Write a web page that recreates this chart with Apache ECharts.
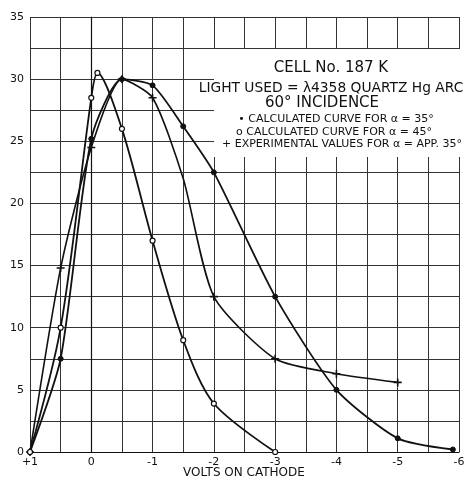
<!DOCTYPE html>
<html>
<head>
<meta charset="utf-8">
<script src="https://cdn.jsdelivr.net/npm/echarts@6/dist/echarts.min.js"></script>
<style>
html,body{margin:0;padding:0;background:#fff;}
#c{width:464px;height:480px;}
</style>
</head>
<body>
<div id="c"></div>
<script>
// ---- data (volts on cathode, relative current) ----
const alpha35X = [1, 0.5, 0, -0.5, -1, -1.5, -2, -3, -4, -5, -5.9];
const alpha35Y = [0, 7.5, 25.2, 30, 29.5, 26.2, 22.5, 12.5, 5, 1.1, 0.2];
const alpha45X = [1, 0.5, 0, -0.1, -0.5, -1, -1.5, -2, -3];
const alpha45Y = [0, 10, 28.5, 30.5, 26, 17, 9, 3.9, 0];
const expX = [1, 0.5, 0, -0.5, -1, -1.5, -2, -3, -4, -5];
const expY = [0, 14.8, 24.5, 30, 28.5, 22, 12.5, 7.5, 6.3, 5.6];
const expMarked = [1, 1, 1, 1, 1, 0, 1, 1, 1, 1];
const xTickValues = [1, 0, -1, -2, -3, -4, -5, -6];
const xTickLabels = ['+1', '0', '-1', '-2', '-3', '-4', '-5', '-6'];
const yTickValues = [0, 5, 10, 15, 20, 25, 30, 35];
const yTickLabels = ['0', '5', '10', '15', '20', '25', '30', '35'];
const titleLines = ['CELL No. 187 K', 'LIGHT USED = λ4358 QUARTZ Hg ARC', '60° INCIDENCE'];
const legendLines = ['• CALCULATED CURVE FOR α = 35°', 'o CALCULATED CURVE FOR α = 45°', '+ EXPERIMENTAL VALUES FOR α = APP. 35°'];
const xAxisTitle = 'VOLTS ON CATHODE';

const pair = (xs, ys) => xs.map((x, i) => [x, ys[i]]);
const FONT = 'DejaVu Sans';
const INK = '#111';
const plusPath = 'path://M4,0 H6 V4 H10 V6 H6 V10 H4 V6 H0 V4 H4 Z';
const txt = (x, y, text, size) => ({
  type: 'text', z: 1, x: x, y: y, silent: true,
  style: {text: text, font: size + 'px "DejaVu Sans"', fill: INK, align: 'center', verticalAlign: 'middle'}
});
const expData = expX.map((x, i) => expMarked[i] ? {value: [x, expY[i]]} : {value: [x, expY[i]], symbol: 'none'});

const chart = echarts.init(document.getElementById('c'), null, {renderer: 'canvas'});
const option = {
  animation: false,
  backgroundColor: '#fff',
  grid: {left: 30, right: 5, top: 17, bottom: 28, containLabel: false, outerBoundsMode: 'none'},
  xAxis: {
    type: 'value', min: -6, max: 1, interval: 0.5, inverse: true,
    axisLine: {show: true, lineStyle: {color: INK, width: 1.2}},
    axisTick: {show: false},
    splitLine: {show: true, lineStyle: {color: '#333', width: 1}},
    axisLabel: {
      color: INK, fontFamily: FONT, fontSize: 11, margin: 5, hideOverlap: false,
      formatter: v => { const i = xTickValues.indexOf(v); return i >= 0 ? xTickLabels[i] : ''; }
    }
  },
  yAxis: {
    type: 'value', min: 0, max: 35, interval: 2.5,
    axisLine: {show: true, lineStyle: {color: INK, width: 1.2}},
    axisTick: {show: false},
    splitLine: {show: true, lineStyle: {color: '#333', width: 1}},
    axisLabel: {
      color: INK, fontFamily: FONT, fontSize: 11, margin: 6,
      formatter: v => { const i = yTickValues.indexOf(v); return i >= 0 ? yTickLabels[i] : ''; }
    }
  },
  series: [
    {
      name: 'alpha35', type: 'line', data: pair(alpha35X, alpha35Y), smooth: 0.22,
      symbol: 'circle', symbolSize: 5,
      lineStyle: {color: INK, width: 1.8},
      itemStyle: {color: INK, borderColor: INK, borderWidth: 1}, z: 3
    },
    {
      name: 'alpha45', type: 'line', data: pair(alpha45X, alpha45Y), smooth: 0.3,
      symbol: 'circle', symbolSize: 5,
      lineStyle: {color: INK, width: 1.8},
      itemStyle: {color: '#fff', borderColor: INK, borderWidth: 1.2}, z: 4
    },
    {
      name: 'experimental', type: 'line', data: expData, smooth: 0.22,
      symbol: plusPath, symbolSize: 8,
      lineStyle: {color: INK, width: 1.6},
      itemStyle: {color: INK}, z: 3
    }
  ],
  graphic: [
    {type: 'rect', z: 1, silent: true, shape: {x: 214, y: 49, width: 250, height: 108}, style: {fill: '#fff'}},
    {type: 'rect', z: 1, silent: true, shape: {x: 196, y: 80, width: 20, height: 28}, style: {fill: '#fff'}},
    txt(331, 68, titleLines[0], 15),
    txt(331, 88, titleLines[1], 13.8),
    txt(322, 103, titleLines[2], 15),
    txt(336, 119, legendLines[0], 11),
    txt(334, 132, legendLines[1], 11),
    txt(342, 144, legendLines[2], 11),
    txt(244, 473, xAxisTitle, 12)
  ]
};
chart.setOption(option);
</script>
</body>
</html>
